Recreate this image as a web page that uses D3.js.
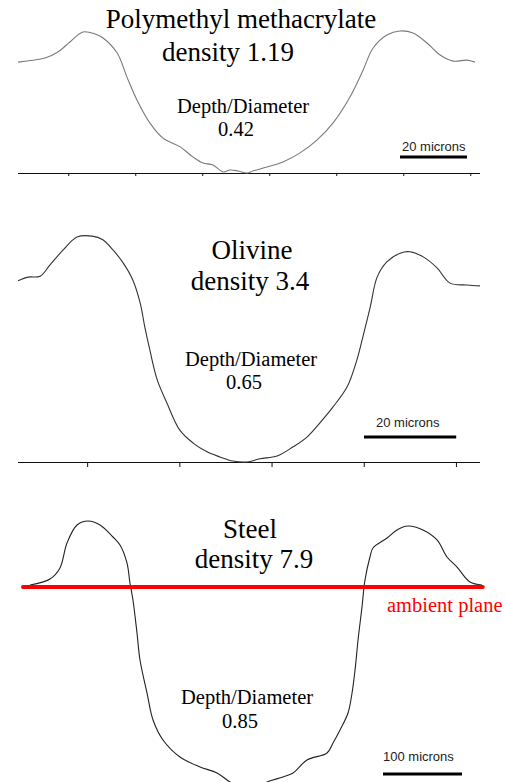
<!DOCTYPE html>
<html><head><meta charset="utf-8">
<script src="https://cdn.jsdelivr.net/npm/d3@7"></script>
<style>html,body{margin:0;padding:0;background:#fff;}svg{display:block;}</style>
</head><body>
<svg id="c" width="505" height="782"></svg>
<script>
// ---- data (microns) ----
const pmmaX = [0,8.1,11.9,15.5,19.4,23.0,25.4,29.6,32.5,35.5,39.4,43.3,48.4,52.2,55.2,58.2,61.2,63.3,65.7,68.4,70.1,74.3,79.1,84.2,89.3,94.0,99.1,103.0,106.0,110.1,114.0,117.9,122.1,126.0,129.9,134.0,136.4];
const pmmaY = [33.1,34.3,36.1,39.1,42.1,41.5,40.3,35.8,28.7,21.8,14.9,10.4,7.8,4.8,3.0,2.4,0.3,0.9,0.6,0,0.6,1.8,3.3,6.0,9.9,14.9,22.7,30.7,37.3,41.2,42.4,41.8,38.8,35.2,33.4,33.7,33.1];
const olivineX = [0,2.2,4.8,6.9,9.8,12.8,16.1,18.4,20.6,22.8,24.9,26.5,27.5,28.6,30.2,32.3,35.1,38.0,41.0,43.8,46.6,49.7,52.5,56.2,59.7,62.7,65.5,68.3,71.4,73.5,74.8,76.4,77.9,80.0,82.9,85.0,87.9,90.9,93.7,97.4,100.2];
const olivineY = [39.3,40.1,40.3,42.7,46.0,48.8,49.0,48.2,46.0,43.2,39.5,34.5,29.3,24.3,17.8,12.8,6.9,4.1,2.2,1.1,0.2,0,0.7,1.3,3.3,5.4,8.5,11.9,16.3,22.1,27.1,33.6,40.1,43.4,45.3,45.6,44.5,42.1,38.8,38.4,38.2];
const steelX = [8.9,34.2,46.8,55.7,68.4,82.3,97.5,113.9,122.8,131.6,135.4,139.2,144.3,148.1,157.0,164.6,177.2,198.7,224.1,245.6,262.0,284.8,308.9,329.1,341.8,359.5,384.8,392.4,401.3,411.4,416.5,420.3,424.1,429.1,432.9,439.2,443.0,460.8,473.4,487.3,506.3,524.1,536.7,549.4,565.8,581.0];
const steelY = [2.5,10.1,24.1,55.7,78.5,83.5,78.5,63.3,53.2,30.4,5.1,-16.5,-58.2,-92.4,-134.2,-168.4,-193.7,-215.2,-227.8,-235.4,-246.8,-259.5,-246.8,-240.5,-235.4,-219.0,-210.1,-197.5,-181.0,-159.5,-134.2,-105.1,-67.1,-25.3,8.9,38.0,49.4,62.0,72.2,77.2,72.2,59.5,38.0,25.3,6.3,2.5];
const pmmaTicks = [15,35,55,75,95,115,135];
const olivineTicks = [15,35,55,75,95];
const ambientPlane = [0, 582];
const titles = [["Polymethyl methacrylate","density 1.19"],["Olivine","density 3.4"],["Steel","density 7.9"]];
const ratios = ["0.42","0.65","0.85"];
const scaleBars = [20,20,100];
const scaleLabels = ["20 microns","20 microns","100 microns"];

const svg = d3.select("#c");
const serif = "'Liberation Serif','Times New Roman',serif";
const sans = "'Liberation Sans',Arial,sans-serif";

function panel(opt){
  const g = svg.append("g");
  const x = d3.scaleLinear().domain([0,1]).range([opt.x0, opt.x0+opt.ppm]);
  const y = d3.scaleLinear().domain([0,1]).range([opt.base, opt.base-opt.ppm]);
  if(opt.ticks){
    const ax = d3.axisBottom(x).tickValues(opt.ticks).tickSize(opt.tickLen).tickSizeOuter(0).tickFormat("");
    const a = g.append("g").attr("transform",`translate(0,${opt.base})`).call(ax);
    a.select(".domain").attr("d",`M${opt.axisFrom},0.5H${opt.axisTo}`).attr("stroke","#111");
    a.selectAll(".tick line").attr("stroke","#111");
  }
  const line = d3.line().curve(d3.curveCatmullRom.alpha(0.5)).x(d=>x(d[0])).y(d=>y(d[1]));
  const pts = opt.xs.map((v,i)=>[v,opt.ys[i]]);
  g.append("path").attr("d",line(pts)).attr("fill","none").attr("stroke",opt.color).attr("stroke-width",1.1);
  return {g,x,y};
}

// Panel 1
const p1 = panel({x0:18, ppm:3.35, base:173, xs:pmmaX, ys:pmmaY, color:"#7a7a7a", ticks:pmmaTicks, tickLen:3, axisFrom:18, axisTo:480});
// Panel 2
const p2 = panel({x0:18, ppm:4.61, base:462, xs:olivineX, ys:olivineY, color:"#333", ticks:olivineTicks, tickLen:5, axisFrom:18, axisTo:480});
// Panel 3
const p3 = panel({x0:23, ppm:0.79, base:587, xs:steelX, ys:steelY, color:"#222"});
p3.g.append("line").attr("x1",p3.x(ambientPlane[0])).attr("x2",p3.x(ambientPlane[1]))
  .attr("y1",p3.y(0)).attr("y2",p3.y(0)).attr("stroke","#ff0000").attr("stroke-width",4).attr("stroke-linecap","round");
svg.append("text").attr("x",387).attr("y",612).attr("font-family",serif).attr("font-size",20.5).attr("fill","#ff0000").text("ambient plane");

function txt(t,x,y,size,fam,anchor){
  svg.append("text").attr("x",x).attr("y",y).attr("font-family",fam).attr("font-size",size).attr("fill","#000").attr("text-anchor",anchor||"start").text(t);
}
// titles
txt(titles[0][0],241,28,27,serif,"middle");
txt(titles[0][1],228,61,27,serif,"middle");
txt(titles[1][0],252,259,27,serif,"middle");
txt(titles[1][1],250,290,27,serif,"middle");
txt(titles[2][0],250,538,27,serif,"middle");
txt(titles[2][1],254,568,27,serif,"middle");
// depth/diameter
txt("Depth/Diameter",177,112.5,20.5,serif);
txt(ratios[0],218,135.5,20.5,serif);
txt("Depth/Diameter",185,366,20.5,serif);
txt(ratios[1],226,389,20.5,serif);
txt("Depth/Diameter",181,704,20.5,serif);
txt(ratios[2],222,728,20.5,serif);

// scale bars
function bar(p, startX, yPix, len, label, lx, ly){
  svg.append("line").attr("x1",startX).attr("x2",startX + (p.x(len)-p.x(0))).attr("y1",yPix).attr("y2",yPix)
    .attr("stroke","#000").attr("stroke-width",3);
  svg.append("text").attr("x",lx).attr("y",ly).attr("font-family",sans).attr("font-size",13).attr("fill","#222").text(label);
}
bar(p1,400,157,scaleBars[0],scaleLabels[0],402,151);
bar(p2,364,437,scaleBars[1],scaleLabels[1],376,427);
bar(p3,383,774,scaleBars[2],scaleLabels[2],383,761);
</script>
</body></html>
